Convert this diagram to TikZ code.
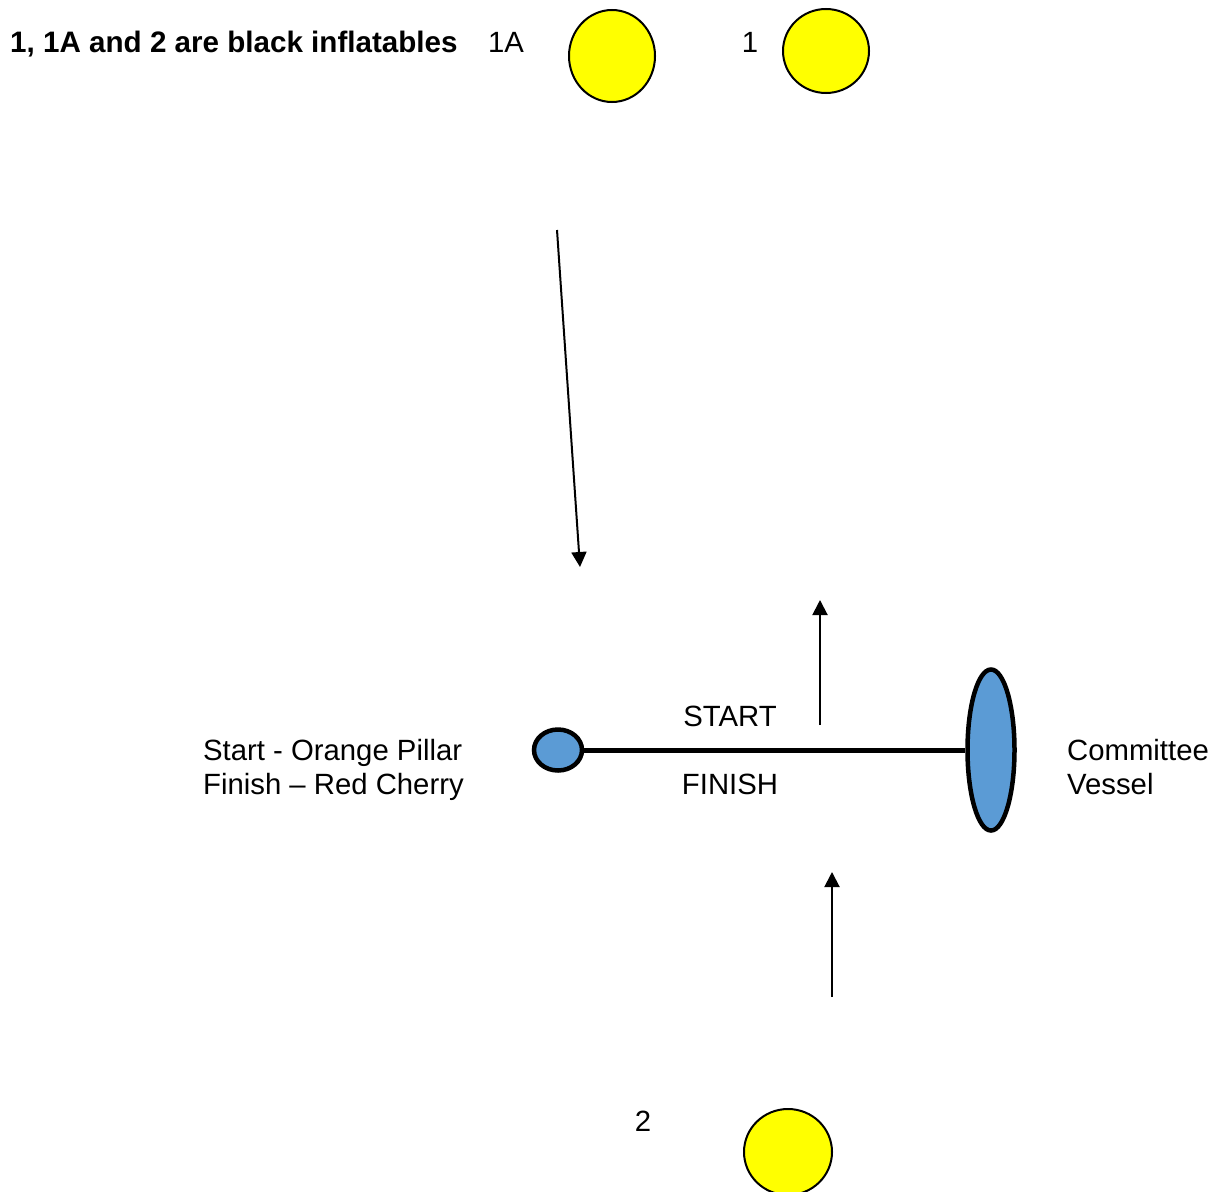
\documentclass[tikz,border=0pt]{standalone}
\usepackage{fontspec}
\setmainfont{Liberation Sans}
\usetikzlibrary{shapes.geometric,arrows.meta}
\definecolor{bluefill}{HTML}{5B9BD5}
\definecolor{buoyyellow}{HTML}{FFFF00}
\begin{document}
\begin{tikzpicture}[x=1pt,y=-1pt,
  lbl/.style={inner sep=0pt,font=\fontsize{29.3}{34}\selectfont},
  buoy/.style={ellipse,draw=black,line width=2pt,fill=buoyyellow,inner sep=0pt},
  linemark/.style={ellipse,draw=black,line width=4.5pt,fill=bluefill,inner sep=0pt},
  flow/.style={line width=2pt,-{Triangle[length=15pt,width=15pt]}}]
\useasboundingbox (0,0) rectangle (1214,1191);
% title and labels
\node[lbl,anchor=base west,font=\fontsize{29.6}{34}\selectfont\bfseries] (title) at (10,52) {1, 1A and 2 are black inflatables};
\node[lbl,anchor=base west] (l1a) at (488,52) {1A};
\node[lbl,anchor=base] (l1) at (750,52) {1};
\node[lbl,anchor=base] (l2) at (643,1131.5) {2};
% buoys
\node[buoy,minimum width=86pt,minimum height=92pt] (b1a) at (612,56) {};
\node[buoy,minimum width=86pt,minimum height=84pt] (b1) at (826,51) {};
\node[buoy,minimum width=88pt,minimum height=86pt] (b2) at (788,1152) {};
% start/finish line
\node[linemark,minimum width=48pt,minimum height=41pt] (pillar) at (558,750) {};
\node[linemark,minimum width=47pt,minimum height=161pt] (vessel) at (991,750) {};
\draw[line width=5pt] (pillar.east) -- (vessel.west);
\node[lbl,anchor=base] (start) at (730,726.5) {START};
\node[lbl,anchor=base] (finish) at (730,794.5) {FINISH};
\node[lbl,anchor=base west] (sp1) at (203,760.5) {Start - Orange Pillar};
\node[lbl,anchor=base west] (sp2) at (203,794.5) {Finish – Red Cherry};
\node[lbl,anchor=base west] (cv1) at (1067,760.5) {Committee};
\node[lbl,anchor=base west] (cv2) at (1067,794.5) {Vessel};
% arrows
\coordinate (a1s) at (557,230);
\coordinate (a1e) at (580,567);
\coordinate (a2s) at (820,725);
\coordinate (a2e) at (820,600);
\coordinate (a3s) at (832,997);
\coordinate (a3e) at (832,872);
\draw[flow] (a1s) -- (a1e);
\draw[flow] (a2s) -- (a2e);
\draw[flow] (a3s) -- (a3e);
\end{tikzpicture}
\end{document}
